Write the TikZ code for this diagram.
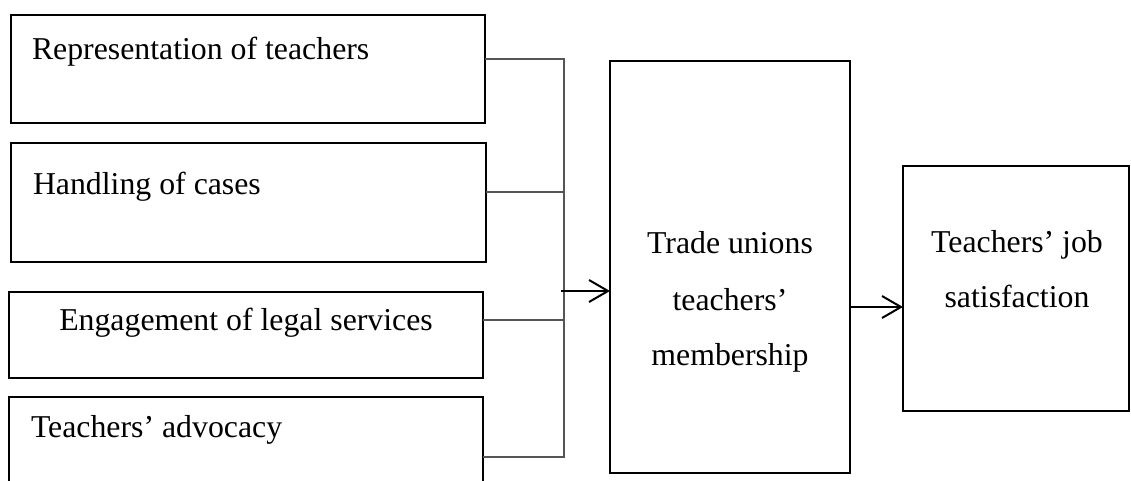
\documentclass[tikz,border=0pt]{standalone}
\usepackage{fontspec}
\setmainfont{Liberation Serif}
\usetikzlibrary{arrows.meta}
\definecolor{conngray}{HTML}{555555}
\begin{document}
\begin{tikzpicture}[x=1pt,y=-1pt,
  boxa/.style={draw=black, line width=2.3pt, rectangle, inner sep=0pt, outer sep=0pt},
  boxb/.style={draw=black, line width=1.7pt, rectangle, inner sep=0pt, outer sep=0pt},
  lbl/.style={inner sep=0pt, outer sep=0pt, font=\fontsize{31.8}{55}\selectfont},
  conn/.style={draw=conngray, line width=1.3pt},
  arr/.style={draw=black, line width=2pt, -{Straight Barb[length=19pt,width=22pt,line width=2pt]}}
]
\useasboundingbox (0,0) rectangle (1131,481);
% left boxes
\node[boxa, minimum width=474pt, minimum height=108pt] (b1) at (248,69) {};
\node[boxa, minimum width=475pt, minimum height=119pt] (b2) at (248.5,202.5) {};
\node[boxa, minimum width=474pt, minimum height=86pt] (b3) at (246,335) {};
\node[boxa, minimum width=474pt, minimum height=110pt] (b4) at (246,452) {};
\node[lbl, anchor=base west] (t1) at (32,60) {Representation of teachers};
\node[lbl, anchor=base west] (t2) at (33,194) {Handling of cases};
\node[lbl, anchor=base] (t3) at (246,330) {Engagement of legal services};
\node[lbl, anchor=base west] (t4) at (31,437) {Teachers’ advocacy};
% middle and right boxes
\node[boxb, minimum width=240pt, minimum height=412pt] (tu) at (730,267) {};
\node[lbl, anchor=base] (tu1) at (730,253) {Trade unions};
\node[lbl, anchor=base] (tu2) at (730,310) {teachers’};
\node[lbl, anchor=base] (tu3) at (730,365) {membership};
\node[boxa, minimum width=226pt, minimum height=245pt] (js) at (1016,288.5) {};
\node[lbl, anchor=base] (js1) at (1017,252) {Teachers’ job};
\node[lbl, anchor=base] (js2) at (1017,307) {satisfaction};
% bus
\coordinate (bt) at (564,59);
\coordinate (bb) at (564,457);
\coordinate (ba) at (561,291);
\draw[conn] (b1.east |- bt) -- (bt) -- (bb) -- (b4.east |- bb);
\draw[conn] (b2.east |- 0,192) -- (bt |- 0,192);
\draw[conn] (b3.east |- 0,320) -- (bt |- 0,320);
\draw[arr] (ba) -- (tu.west |- ba);
\draw[arr] (tu.east |- 0,307) -- (js.west |- 0,307);
\end{tikzpicture}
\end{document}
